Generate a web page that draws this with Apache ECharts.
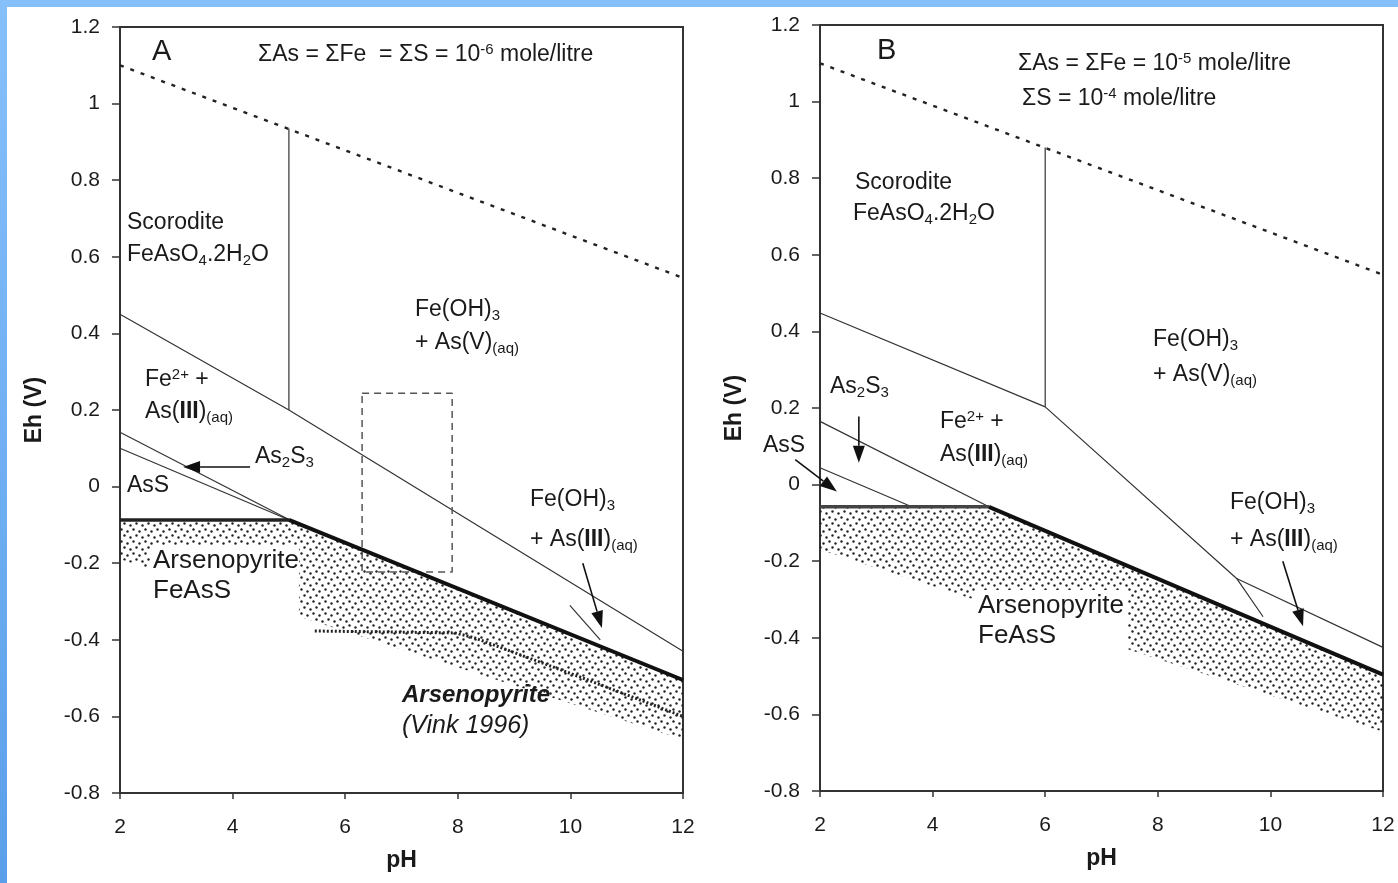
<!DOCTYPE html>
<html>
<head>
<meta charset="utf-8">
<script src="https://cdn.jsdelivr.net/npm/echarts@6.0.0/dist/echarts.min.js"></script>
<style>
  html, body { margin: 0; padding: 0; background: #fff; }
  #chart { position: absolute; left: 0; top: 0; width: 1398px; height: 883px; }
  .band-top { position: absolute; left: 0; top: 0; width: 1398px; height: 7px; background: #86c0fb; }
  .band-left { position: absolute; left: 0; top: 0; width: 7px; height: 883px; background: linear-gradient(#86c0fb, #5b9fea); }
</style>
</head>
<body>
<div id="chart"></div>
<div class="band-top"></div>
<div class="band-left"></div>
<script>
// ---- panel A : sum As = sum Fe = sum S = 1e-6 ----
const waterA = [[2, 1.10], [12, 0.545]]
const scoroditeA = [[2, 0.45], [5, 0.2], [12, -0.43]]
const scoroditeVertA = [[5, 0.2], [5, 0.935]]
const as2s3UpperA = [[2, 0.142], [5.05, -0.09]]
const assLowerA = [[2, 0.10], [5.05, -0.09]]
const thickFlatA = [[2, -0.087], [5.0, -0.087]]
const thickSlopeA = [[5.0, -0.087], [12, -0.505]]
const feSegA = [[9.99, -0.31], [10.53, -0.40]]
const stippleLowA = [[2, -0.19], [12, -0.66]]
const vinkA = [[5.46, -0.377], [7.95, -0.382], [8.3, -0.395], [10.17, -0.497], [12, -0.60]]
const boxA = [[6.3, 0.244], [7.9, 0.244], [7.9, -0.223], [6.3, -0.223], [6.3, 0.244]]
// arrows: [from, tip]
const arrowsA = [
  [[4.31, 0.051], [3.12, 0.051]],
  [[10.22, -0.20], [10.56, -0.369]]
]

// ---- panel B : sum As = sum Fe = 1e-5, sum S = 1e-4 ----
const waterB = [[2, 1.10], [12, 0.548]]
const scoroditeB = [[2, 0.448], [6, 0.203], [9.4, -0.245], [9.87, -0.345]]
const feBranchB = [[9.4, -0.245], [12, -0.425]]
const scoroditeVertB = [[6, 0.203], [6, 0.88]]
const as2s3UpperB = [[2, 0.165], [5.0, -0.058]]
const assLowerB = [[2, 0.044], [3.63, -0.058]]
const thickFlatB = [[2, -0.058], [5.0, -0.058]]
const thickSlopeB = [[5.0, -0.058], [12, -0.496]]
const stippleLowB = [[2, -0.17], [12, -0.645]]
const arrowsB = [
  [[2.69, 0.178], [2.69, 0.057]],
  [[1.56, 0.065], [2.30, -0.018]],
  [[10.22, -0.20], [10.58, -0.37]]
]

const yTicks = { min: -0.8, max: 1.2, interval: 0.2 }
const xTicks = { min: 2, max: 12, interval: 2 }

const FONT = 'Liberation Sans'
const INK = '#1a1a1a'

function stipplePattern() {
  const c = document.createElement('canvas')
  c.width = 12; c.height = 12
  const ctx = c.getContext('2d')
  ctx.fillStyle = '#222'
  const dots = [[1, 1], [7, 3], [4, 7], [10, 9]]
  dots.forEach(([x, y]) => {
    ctx.beginPath()
    ctx.arc(x + 0.5, y + 0.5, 1.2, 0, Math.PI * 2)
    ctx.fill()
  })
  return c
}
const PATTERN = { image: stipplePattern(), repeat: 'repeat' }

function line(data, gi, style) {
  return {
    type: 'line', xAxisIndex: gi, yAxisIndex: gi, data, symbol: 'none',
    silent: true, z: 3, lineStyle: style
  }
}

function stipple(top, low, gi) {
  const poly = top.concat(low.slice().reverse())
  return {
    type: 'custom', xAxisIndex: gi, yAxisIndex: gi, silent: true, z: 1, data: poly,
    renderItem(params, api) {
      if (params.dataIndex !== 0) return null
      return {
        type: 'polygon',
        shape: { points: poly.map(p => api.coord(p)) },
        style: { fill: PATTERN, stroke: null }
      }
    }
  }
}

function arrowSeries(list, gi) {
  return {
    type: 'custom', xAxisIndex: gi, yAxisIndex: gi, silent: true, clip: false, z: 5,
    data: list.map(a => [a[0][0], a[0][1], a[1][0], a[1][1]]),
    encode: { x: [0, 2], y: [1, 3] },
    renderItem(params, api) {
      const p0 = api.coord([api.value(0), api.value(1)])
      const p1 = api.coord([api.value(2), api.value(3)])
      const dx = p1[0] - p0[0], dy = p1[1] - p0[1]
      const len = Math.hypot(dx, dy)
      const ux = dx / len, uy = dy / len
      const L = 17, W = 6
      const bx = p1[0] - ux * L, by = p1[1] - uy * L
      return {
        type: 'group',
        children: [
          { type: 'line', shape: { x1: p0[0], y1: p0[1], x2: bx, y2: by }, style: { stroke: '#111', lineWidth: 1.6 } },
          { type: 'polygon', shape: { points: [p1, [bx - uy * W, by + ux * W], [bx + uy * W, by - ux * W]] }, style: { fill: '#111' } }
        ]
      }
    }
  }
}

const thin = { color: '#333', width: 1.2 }
const thick = { color: '#111', width: 4 }
const water = { color: '#222', width: 2.4, type: [4, 7] }

function xAxis(gi) {
  return {
    type: 'value', gridIndex: gi, ...xTicks,
    name: 'pH', nameLocation: 'middle', nameGap: 56,
    nameTextStyle: { fontSize: 23, fontWeight: 'bold', color: INK, fontFamily: FONT },
    axisLine: { onZero: false, lineStyle: { color: '#333', width: 2 } },
    axisTick: { length: 6, lineStyle: { color: '#333', width: 1.5 } },
    axisLabel: { fontSize: 21, color: INK, margin: 24, fontFamily: FONT },
    splitLine: { show: false }
  }
}
function yAxis(gi) {
  return {
    type: 'value', gridIndex: gi, ...yTicks,
    name: 'Eh (V)', nameLocation: 'middle', nameGap: 74, nameRotate: 90,
    nameTextStyle: { fontSize: 23, fontWeight: 'bold', color: INK, fontFamily: FONT },
    axisLine: { onZero: false, lineStyle: { color: '#333', width: 2 } },
    axisTick: { length: 8, lineStyle: { color: '#333', width: 1.5 } },
    axisLabel: { fontSize: 21, color: INK, margin: 20, fontFamily: FONT },
    splitLine: { show: false }
  }
}

const RICH = {
  sub: { fontSize: 15, lineHeight: 12, verticalAlign: 'bottom', fontFamily: FONT, fill: INK },
  sup: { fontSize: 15, lineHeight: 12, verticalAlign: 'top', fontFamily: FONT, fill: INK },
  b: { fontSize: 23, fontWeight: 'bold', fontFamily: FONT, fill: INK },
  t: { fontSize: 23, fontFamily: FONT, fill: INK },
  tsup: { fontSize: 15, lineHeight: 11, verticalAlign: 'top', fontFamily: FONT, fill: INK }
}

function txt(left, top, text, more) {
  return {
    type: 'text', left, top, z: 100, silent: true,
    style: Object.assign({
      text, rich: RICH, fontSize: 23, lineHeight: 26, fontFamily: FONT, fill: INK
    }, more || {})
  }
}

const graphics = [
  // panel A
  txt(152, 37, 'A', { fontSize: 29, lineHeight: 30 }),
  txt(258, 42, '{t|ΣAs = ΣFe  = ΣS = 10}{tsup|-6}{t| mole/litre}'),
  txt(127, 210, 'Scorodite'),
  txt(127, 242, 'FeAsO{sub|4}.2H{sub|2}O'),
  txt(415, 297, 'Fe(OH){sub|3}'),
  txt(415, 330, '+ As(V){sub|(aq)}'),
  txt(145, 367, 'Fe{sup|2+} +'),
  txt(145, 399, 'As({b|III}){sub|(aq)}'),
  txt(255, 444, 'As{sub|2}S{sub|3}'),
  txt(127, 473, 'AsS'),
  txt(150, 545, 'Arsenopyrite\nFeAsS', { fontSize: 26, lineHeight: 30, backgroundColor: '#fff', padding: [1, 0, 16, 3] }),
  txt(530, 487, 'Fe(OH){sub|3}'),
  txt(530, 527, '+ As({b|III}){sub|(aq)}'),
  txt(402, 682, 'Arsenopyrite', { fontSize: 24, fontStyle: 'italic', fontWeight: 'bold' }),
  txt(402, 713, '(Vink 1996)', { fontSize: 25, fontStyle: 'italic' }),
  // panel B
  txt(877, 36, 'B', { fontSize: 29, lineHeight: 30 }),
  txt(1018, 51, '{t|ΣAs = ΣFe = 10}{tsup|-5}{t| mole/litre}'),
  txt(1022, 86, '{t|ΣS = 10}{tsup|-4}{t| mole/litre}'),
  txt(855, 170, 'Scorodite'),
  txt(853, 201, 'FeAsO{sub|4}.2H{sub|2}O'),
  txt(1153, 327, 'Fe(OH){sub|3}'),
  txt(1153, 362, '+ As(V){sub|(aq)}'),
  txt(830, 374, 'As{sub|2}S{sub|3}'),
  txt(763, 433, 'AsS'),
  txt(940, 409, 'Fe{sup|2+} +'),
  txt(940, 442, 'As({b|III}){sub|(aq)}'),
  txt(1230, 490, 'Fe(OH){sub|3}'),
  txt(1230, 527, '+ As({b|III}){sub|(aq)}'),
  txt(975, 590, 'Arsenopyrite\nFeAsS', { fontSize: 26, lineHeight: 30, backgroundColor: '#fff', padding: [1, 4, 14, 3] })
]

const chart = echarts.init(document.getElementById('chart'))
chart.setOption({
  animation: false,
  backgroundColor: 'transparent',
  grid: [
    { left: 120, top: 27, width: 563, height: 766, show: true, borderColor: '#333', borderWidth: 2, backgroundColor: 'transparent' },
    { left: 820, top: 25, width: 563, height: 766, show: true, borderColor: '#333', borderWidth: 2, backgroundColor: 'transparent' }
  ],
  xAxis: [xAxis(0), xAxis(1)],
  yAxis: [yAxis(0), yAxis(1)],
  graphic: { elements: graphics },
  series: [
    stipple(thickFlatA.concat(thickSlopeA.slice(1)), stippleLowA, 0),
    line(waterA, 0, water),
    line(scoroditeA, 0, thin),
    line(scoroditeVertA, 0, thin),
    line(as2s3UpperA, 0, thin),
    line(assLowerA, 0, thin),
    line(feSegA, 0, thin),
    line(boxA, 0, { color: '#555', width: 1.5, type: [7, 5] }),
    line(vinkA, 0, { color: '#222', width: 3, type: [2, 2] }),
    line(thickFlatA, 0, { color: '#222', width: 3.5 }),
    line(thickSlopeA, 0, thick),
    arrowSeries(arrowsA, 0),

    stipple(thickFlatB.concat(thickSlopeB.slice(1)), stippleLowB, 1),
    line(waterB, 1, water),
    line(scoroditeB, 1, thin),
    line(feBranchB, 1, thin),
    line(scoroditeVertB, 1, thin),
    line(as2s3UpperB, 1, thin),
    line(assLowerB, 1, thin),
    line(thickFlatB, 1, { color: '#444', width: 3.5 }),
    line(thickSlopeB, 1, thick),
    arrowSeries(arrowsB, 1)
  ]
})
</script>
</body>
</html>
